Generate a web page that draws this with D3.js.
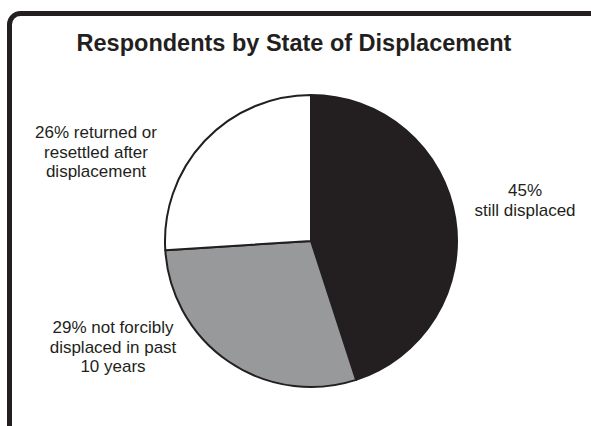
<!DOCTYPE html>
<html>
<head>
<meta charset="utf-8">
<script src="https://cdn.jsdelivr.net/npm/d3@7"></script>
<style>
  html, body { margin: 0; padding: 0; background: #fff; }
  svg { display: block; }
  text { font-family: "Liberation Sans", Arial, Helvetica, sans-serif; fill: #231f20; }
</style>
</head>
<body>
<svg id="chart" width="591" height="426"></svg>
<script>
// Share of respondents by displacement status (percent), clockwise from 12 o'clock
const categories = ["still displaced", "not forcibly displaced in past 10 years", "returned or resettled after displacement"];
const shares = [45, 29, 26];
const sliceColors = ["#231f20", "#97999b", "#ffffff"];
const labelLines = [
  ["45%", "still displaced"],
  ["29% not forcibly", "displaced in past", "10 years"],
  ["26% returned or", "resettled after", "displacement"]
];
const labelAnchors = [[525, 196], [113, 333], [96, 138]];
const title = "Respondents by State of Displacement";

const svg = d3.select("#chart");
const W = 591, H = 426;

// Rounded frame running off the right and bottom edges
svg.append("rect")
  .attr("x", 9.5).attr("y", 13.5)
  .attr("width", W + 40).attr("height", H + 40)
  .attr("rx", 11).attr("ry", 11)
  .attr("fill", "none")
  .attr("stroke", "#231f20")
  .attr("stroke-width", 5);

svg.append("text")
  .attr("x", 294).attr("y", 51)
  .attr("text-anchor", "middle")
  .attr("font-weight", "bold")
  .attr("font-size", 23.5)
  .text(title);

const cx = 311, cy = 241, r = 146;
const data = categories.map((c, i) => ({ category: c, value: shares[i], color: sliceColors[i], lines: labelLines[i], anchor: labelAnchors[i] }));

const pie = d3.pie().value(d => d.value).sort(null);
const arc = d3.arc().innerRadius(0).outerRadius(r);

const g = svg.append("g").attr("transform", `translate(${cx},${cy})`);
g.selectAll("path")
  .data(pie(data))
  .join("path")
  .attr("d", arc)
  .attr("fill", d => d.data.color)
  .attr("stroke", "#231f20")
  .attr("stroke-width", 2)
  .attr("stroke-linejoin", "round");

// Multi-line slice labels outside the pie
const lineHeight = 19.5;
data.forEach(d => {
  const t = svg.append("text")
    .attr("text-anchor", "middle")
    .attr("font-size", 17);
  d.lines.forEach((ln, j) => {
    t.append("tspan")
      .attr("x", d.anchor[0])
      .attr("y", d.anchor[1] + j * lineHeight)
      .text(ln);
  });
});
</script>
</body>
</html>
